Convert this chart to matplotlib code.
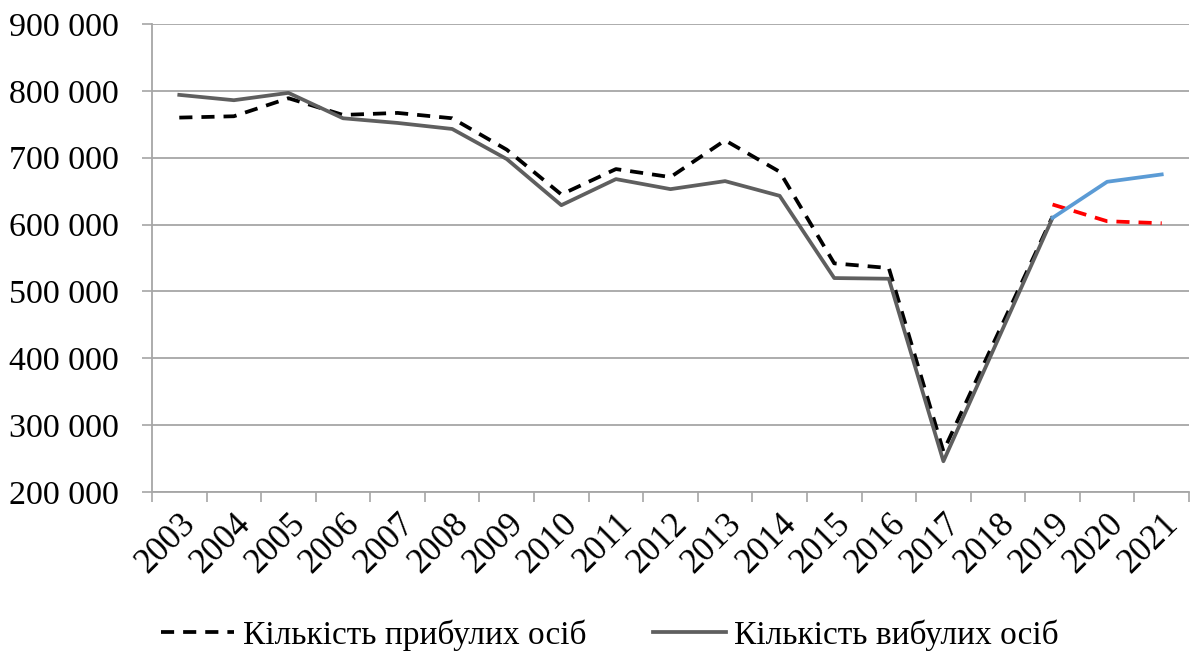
import numpy as np
import matplotlib
matplotlib.use('Agg')
import matplotlib.pyplot as plt
from matplotlib.ticker import FuncFormatter, FixedLocator

plt.rcParams['font.family'] = ['Liberation Serif', 'DejaVu Serif']

years = [str(y) for y in range(2003, 2022)]

# кількість прибулих осіб
arrived = [760000, 762000, 789000, 764000, 767000, 759000, 712000, 645000, 683000,
           671000, 726000, 679000, 542000, 535000, 261000, 437000, 612000, None, None]
# кількість вибулих осіб
departed = [794000, 786000, 797000, 759000, 752000, 743000, 698000, 629000, 668000,
            653000, 665000, 643000, 520000, 519000, 246000, 428000, 610000, None, None]
# продовження рядів 2019-2021
arrived_tail = [630000, 605000, 602000]
departed_tail = [610000, 664000, 675000]

x = np.arange(len(years))
arr = np.array([np.nan if v is None else v for v in arrived], dtype=float)
dep = np.array([np.nan if v is None else v for v in departed], dtype=float)

fig = plt.figure(figsize=(11.92, 6.52), dpi=100)
ax = fig.add_axes([152 / 1192, 1 - 492 / 652, (1189 - 152) / 1192, (492 - 24) / 652])

grid_c = '#a6a6a6'
ax.set_ylim(200000, 900000)
ax.set_xlim(-0.5, len(years) - 0.5)
ax.yaxis.set_major_locator(FixedLocator(np.arange(200000, 900001, 100000)))
ax.grid(axis='y', color=grid_c, lw=1.3)
ax.set_axisbelow(True)

ax.yaxis.set_major_formatter(FuncFormatter(lambda v, p: f'{int(v):,}'.replace(',', ' ')))
ax.tick_params(axis='y', length=7, width=1.2, color=grid_c, pad=17, labelsize=24.5)

ax.set_xticks(x)
ax.set_xticklabels(years, rotation=45, ha='right', rotation_mode='anchor', fontsize=25)
ax.set_xticks(np.arange(-0.5, len(years), 1), minor=True)
ax.tick_params(axis='x', which='major', length=0, pad=11)
ax.tick_params(axis='x', which='minor', length=7, width=1.2, color=grid_c)

for s in ['top', 'right']:
    ax.spines[s].set_visible(False)
for s in ['left', 'bottom']:
    ax.spines[s].set_color(grid_c)
    ax.spines[s].set_linewidth(1.3)

ax.plot(x, arr, color='black', lw=2.7, dashes=(3.5, 2.4), label='Кількість прибулих осіб')
ax.plot(x, dep, color='#5f5f5f', lw=2.7, label='Кількість вибулих осіб')
xt = x[-3:]
ax.plot(xt, arrived_tail, color='#ff0000', lw=2.7, dashes=(3.5, 2.4))
ax.plot(xt, departed_tail, color='#5b9bd5', lw=2.7)

fig.legend(loc='center', bbox_to_anchor=(610 / 1192, 1 - 635 / 652), ncol=2, frameon=False,
           fontsize=24, handlelength=2.2, handletextpad=0.25, columnspacing=2.0)

fig.savefig('out.png', dpi=100)
